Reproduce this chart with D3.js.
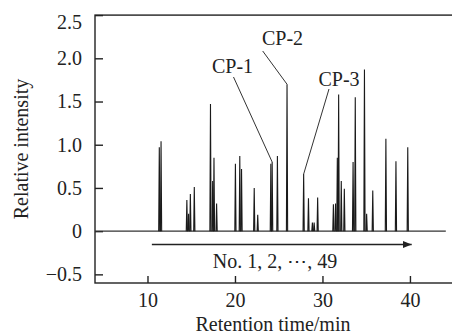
<!DOCTYPE html>
<html>
<head>
<meta charset="utf-8">
<script src="https://cdn.jsdelivr.net/npm/d3@7"></script>
<style>
  body { margin: 0; background: #fff; }
  svg { display: block; overflow: hidden; }
  text { font-family: "Liberation Serif", "Times New Roman", serif; fill: #222; }
</style>
</head>
<body>
<div id="chart"></div>
<script>
// Peak retention times (min) and relative heights
const peakTimes   = [11.35, 11.55, 14.5, 14.7, 14.9, 15.35, 17.2, 17.45, 17.6, 17.9,
                     20.05, 20.55, 20.75, 22.2, 22.6, 24.1, 24.25, 24.85, 25.95, 27.85,
                     28.4, 28.85, 29.05, 29.45, 31.25, 31.5, 31.7, 31.85, 32.15, 32.5,
                     33.5, 33.75, 34.8, 35.05, 35.75, 37.25, 38.4, 39.75];
const peakHeights = [0.97, 1.04, 0.36, 0.2, 0.43, 0.51, 1.47, 0.58, 0.85, 0.32,
                     0.78, 0.87, 0.72, 0.50, 0.19, 0.78, 0.80, 0.87, 1.70, 0.66,
                     0.38, 0.10, 0.10, 0.39, 0.31, 0.32, 0.85, 1.58, 0.58, 0.49,
                     0.80, 1.55, 1.87, 0.2, 0.47, 1.07, 0.81, 0.97];

// labelled compounds: name and the peak (by retention time) they point at
const cpNames = ['CP-1', 'CP-2', 'CP-3'];
const cpTimes = [24.25, 25.95, 27.85];

const xTicks = [10, 20, 30, 40];
const yTicks = [-0.5, 0, 0.5, 1.0, 1.5, 2.0, 2.5];
const yTickLabels = ['\u22120.5', '0', '0.5', '1.0', '1.5', '2.0', '2.5'];

const baselineRange = [4, 44.1];
const seriesRange = [10.5, 40.2];   // arrow "No. 1, 2, ..., 49"
const arrowLevel = -0.155;

const W = 452, H = 336;
const svg = d3.select('#chart').append('svg').attr('width', W).attr('height', H);

const x = d3.scaleLinear().domain([4, 44.75]).range([95, 451.5]);
const y = d3.scaleLinear().domain([-0.6, 2.5]).range([283, 15.1]);

const ink = '#222';

// frame (right side falls outside the picture)
svg.append('rect')
  .attr('x', x(4)).attr('y', y(2.5))
  .attr('width', 460 - x(4)).attr('height', y(-0.6) - y(2.5))
  .attr('fill', 'none').attr('stroke', ink).attr('stroke-width', 1.4);

// axes with inward ticks
const xAxis = svg.append('g')
  .attr('transform', `translate(0,${y(-0.6)})`)
  .call(d3.axisBottom(x).tickValues(xTicks).tickSize(-7).tickPadding(10).tickFormat(d3.format('d')));
const yAxis = svg.append('g')
  .attr('transform', `translate(${x(4)},0)`)
  .call(d3.axisLeft(y).tickValues(yTicks).tickSize(-8).tickPadding(13)
    .tickFormat((d, i) => yTickLabels[i]));

[xAxis, yAxis].forEach(g => {
  g.select('.domain').remove();
  g.selectAll('line').attr('stroke', ink).attr('stroke-width', 1.4);
  g.selectAll('text').attr('font-size', 20).attr('fill', ink)
    .style('font-family', '"Liberation Serif", serif');
});
// top label sits a little lower than its tick
yAxis.selectAll('.tick').filter(d => d === 2.5).select('text').attr('dy', '0.68em');

// baseline
const line = d3.line().x(d => x(d[0])).y(d => y(d[1]));
svg.append('path')
  .attr('d', line(baselineRange.map(t => [t, 0])))
  .attr('fill', 'none').attr('stroke', '#333').attr('stroke-width', 1.2);

// peaks as narrow spikes
const hw = 0.07;
svg.append('g').selectAll('path')
  .data(peakTimes.map((t, i) => [t, peakHeights[i]]))
  .join('path')
  .attr('d', d => line([[d[0] - hw, 0], [d[0], d[1]], [d[0] + hw, 0]]))
  .attr('fill', 'none').attr('stroke', '#1a1a1a').attr('stroke-width', 1.1)
  .attr('stroke-linejoin', 'miter');

// compound labels with leader lines
const labelPos = [[232.5, 72.5], [282.5, 45], [339, 86]];
const leaderStart = [[233.5, 77], [262.7, 51], [329, 89]];
cpNames.forEach((name, i) => {
  const idx = peakTimes.indexOf(cpTimes[i]);
  svg.append('line')
    .attr('x1', leaderStart[i][0]).attr('y1', leaderStart[i][1])
    .attr('x2', x(cpTimes[i])).attr('y2', y(peakHeights[idx]))
    .attr('stroke', '#333').attr('stroke-width', 1);
  svg.append('text')
    .attr('x', labelPos[i][0]).attr('y', labelPos[i][1])
    .attr('text-anchor', 'middle').attr('font-size', 20)
    .text(name);
});

// series arrow
svg.append('defs').append('marker')
  .attr('id', 'arr').attr('viewBox', '0 0 10 8')
  .attr('refX', 10).attr('refY', 4)
  .attr('markerWidth', 9).attr('markerHeight', 7).attr('markerUnits', 'userSpaceOnUse')
  .attr('orient', 'auto')
  .append('path').attr('d', 'M0,0L10,4L0,8Z').attr('fill', ink);
svg.append('line')
  .attr('x1', x(seriesRange[0])).attr('x2', x(seriesRange[1]))
  .attr('y1', y(arrowLevel)).attr('y2', y(arrowLevel))
  .attr('stroke', ink).attr('stroke-width', 1.4)
  .attr('marker-end', 'url(#arr)');
svg.append('text')
  .attr('x', 275).attr('y', 268)
  .attr('text-anchor', 'middle').attr('font-size', 20)
  .text('No. 1, 2, \u22EF, 49');

// axis titles
svg.append('text')
  .attr('x', 273).attr('y', 331)
  .attr('text-anchor', 'middle').attr('font-size', 20)
  .text('Retention time/min');
svg.append('text')
  .attr('transform', 'translate(28,149) rotate(-90)')
  .attr('text-anchor', 'middle').attr('font-size', 20)
  .text('Relative intensity');
</script>
</body>
</html>
